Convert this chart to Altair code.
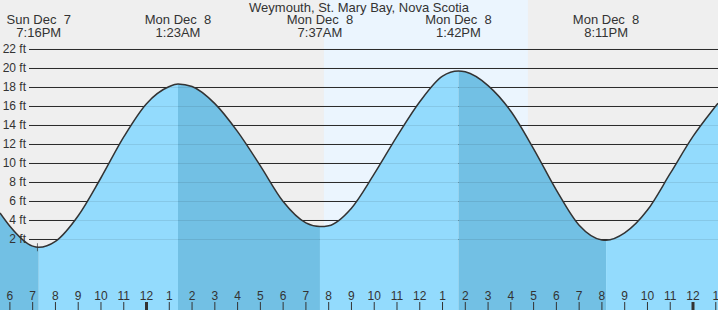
import altair as alt
import pandas as pd

# Hours measured from Sun Dec 7, 6:00 PM
curve_hours = [-0.435, 0, 1, 1.267, 2, 3, 4, 5, 6, 7, 7.383, 8, 9, 10, 11, 12, 13,
               13.617, 14, 15, 16, 17, 18, 19, 19.7, 20, 21, 22, 23, 24, 25, 26,
               26.183, 27, 28, 29, 30, 31, 31.098]
curve_feet = [4.8, 3.4, 1.3, 1.18, 1.8, 4.5, 8.5, 12.8, 16.3, 18.1, 18.37, 18.1, 16.3,
              13.35, 9.75, 6.0, 3.75, 3.36, 3.45, 5.3, 8.9, 12.85, 16.5, 19.2, 19.74,
              19.65, 18.2, 15.5, 11.55, 7.2, 3.5, 1.95, 1.92, 2.7, 5.1, 8.95, 12.85,
              16.05, 16.35]

event_hours = [1.267, 7.383, 13.617, 19.7, 26.183]
event_feet = [1.18, 18.37, 3.36, 19.74, 1.92]
event_dates = ["Sun Dec\u00a0 7", "Mon Dec\u00a0 8", "Mon Dec\u00a0 8", "Mon Dec\u00a0 8", "Mon Dec\u00a0 8"]
event_times = ["7:16PM", "1:23AM", "7:37AM", "1:42PM", "8:11PM"]

sunrise_hour = 13.79
sunset_hour = 22.75
now_hour = 1.21
now_feet = 1.18

grid_feet = [2, 4, 6, 8, 10, 12, 14, 16, 18, 20, 22]
grid_labels = ["2 ft", "4 ft", "6 ft", "8 ft", "10 ft", "12 ft", "14 ft", "16 ft",
               "18 ft", "20 ft", "22 ft"]

hour_ticks = list(range(0, 32))
hour_labels = ["6", "7", "8", "9", "10", "11", "12", "1", "2", "3", "4", "5",
               "6", "7", "8", "9", "10", "11", "12", "1", "2", "3", "4", "5",
               "6", "7", "8", "9", "10", "11", "12", "1"]
midnight_hours = [6, 30]

title_text = ["Weymouth, St. Mary Bay, Nova Scotia"]

# ---- tables ----
curve_df = pd.DataFrame({"h": curve_hours, "ft": curve_feet})

bounds = [curve_hours[0]] + event_hours + [curve_hours[-1]]
rows = []
for i in range(len(bounds) - 1):
    a, b = bounds[i], bounds[i + 1]
    phase = "falling" if i % 2 == 0 else "rising"
    for h, f in zip(curve_hours, curve_feet):
        if a - 1e-9 <= h <= b + 1e-9:
            rows.append({"h": h, "ft": f, "seg": i, "phase": phase})
seg_df = pd.DataFrame(rows)

event_df = pd.DataFrame({"h": event_hours, "ft": event_feet,
                         "date": event_dates, "time": event_times})
grid_df = pd.DataFrame({"ft": grid_feet, "label": grid_labels})
tick_df = pd.DataFrame({"h": hour_ticks, "label": hour_labels})
mid_df = pd.DataFrame({"h": midnight_hours})
day_df = pd.DataFrame({"start": [sunrise_hour], "end": [sunset_hour]})
now_df = pd.DataFrame({"h": [now_hour], "ft": [now_feet]})
title_df = pd.DataFrame({"t": title_text})

W, H = 718, 310
xs = alt.Scale(domain=[-0.4348, 31.098], nice=False, zero=False)
ys = alt.Scale(domain=[-5.4211, 27.2105], nice=False, zero=False)

FONT = "Liberation Sans"
TXT = "#333333"
DARK = "#72c0e4"
LIGHT = "#93dbfd"

def X(f="h"):
    return alt.X(f"{f}:Q", scale=xs, axis=None)

def Y(f="ft"):
    return alt.Y(f"{f}:Q", scale=ys, axis=None, stack=None)

day = alt.Chart(day_df).mark_rect(color="#ebf5fe").encode(
    x=X("start"), x2="end:Q", y=alt.value(0), y2=alt.value(H))

grid = alt.Chart(grid_df).mark_rule(color="#2e2e2e", strokeWidth=1).encode(
    x=alt.value(29), x2=alt.value(W), y=Y())

area = alt.Chart(seg_df).mark_area(interpolate="monotone").encode(
    x=X(), y=Y(), y2=alt.value(H), detail="seg:N",
    color=alt.Color("phase:N", scale=alt.Scale(domain=["falling", "rising"],
                                               range=[DARK, LIGHT]), legend=None))

grid_faint = alt.Chart(grid_df).mark_rule(color="#000000", strokeWidth=1, opacity=0.09).encode(
    x=alt.value(29), x2=alt.value(W), y=Y())

line = alt.Chart(curve_df).mark_line(interpolate="monotone", color="#333333",
                                     strokeWidth=1.5).encode(x=X(), y=Y())

ylabels = alt.Chart(grid_df).mark_text(align="right", baseline="middle", font=FONT,
                                       fontSize=12, color=TXT).encode(
    x=alt.value(26), y=Y(), text="label:N")

now_tick = alt.Chart(now_df).mark_tick(orient="vertical", size=8, thickness=1,
                                       color="#333333").encode(x=X(), y=Y())

ticks = alt.Chart(tick_df).mark_rule(color="#333333", strokeWidth=1).encode(
    x=X(), y=alt.value(302), y2=alt.value(H))
mid_ticks = alt.Chart(mid_df).mark_rule(color="#333333", strokeWidth=3).encode(
    x=X(), y=alt.value(302), y2=alt.value(H))
tick_labels = alt.Chart(tick_df).mark_text(align="center", baseline="alphabetic",
                                           font=FONT, fontSize=12, color=TXT).encode(
    x=X(), y=alt.value(300), text="label:N")

title = alt.Chart(title_df).mark_text(align="center", baseline="alphabetic", font=FONT,
                                      fontSize=13, color=TXT).encode(
    x=alt.value(359), y=alt.value(12), text="t:N")
ev_date = alt.Chart(event_df).mark_text(align="center", baseline="alphabetic", font=FONT,
                                        fontSize=13, color=TXT).encode(
    x=X(), y=alt.value(24), text="date:N")
ev_time = alt.Chart(event_df).mark_text(align="center", baseline="alphabetic", font=FONT,
                                        fontSize=13, color=TXT).encode(
    x=X(), y=alt.value(37), text="time:N")

chart = alt.layer(day, grid, area, grid_faint, line, ylabels, now_tick, ticks,
                  mid_ticks, tick_labels, title, ev_date, ev_time).properties(
    width=W, height=H, padding=0, autosize="none", background="#efefef"
).configure_view(strokeWidth=0)

chart.save("out.html", embed_options={"renderer": "svg", "actions": False})
